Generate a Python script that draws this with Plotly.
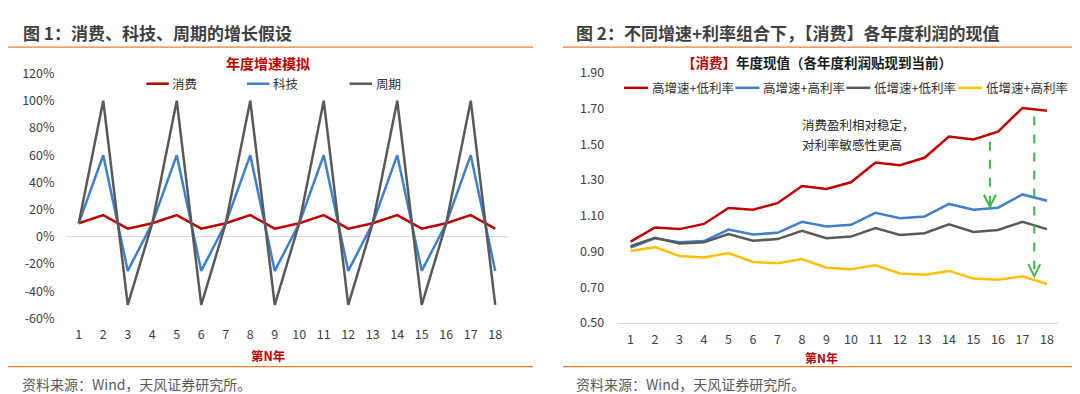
import plotly.graph_objects as go

W, H = 1080, 394

# ---------------- data ----------------
years = list(range(1, 19))
year_labels = [str(y) for y in years]

# Chart 1: annual growth simulation (%)
growth_consume = [10, 16, 6, 10, 16, 6, 10, 16, 6, 10, 16, 6, 10, 16, 6, 10, 16, 6]
growth_tech = [10, 60, -25, 10, 60, -25, 10, 60, -25, 10, 60, -25, 10, 60, -25, 10, 60, -25]
growth_cycle = [10, 100, -50, 10, 100, -50, 10, 100, -50, 10, 100, -50, 10, 100, -50, 10, 100, -50]
c1_yticks = [-60, -40, -20, 0, 20, 40, 60, 80, 100, 120]

# Chart 2: present value of each year's profit (consumer)
pv_high_g_low_r = [0.955, 1.034, 1.025, 1.054, 1.143, 1.134, 1.170, 1.266, 1.250, 1.287,
                   1.398, 1.383, 1.424, 1.543, 1.527, 1.570, 1.703, 1.687]
pv_high_g_high_r = [0.921, 0.974, 0.951, 0.958, 1.022, 0.995, 1.004, 1.066, 1.040, 1.049,
                    1.116, 1.086, 1.095, 1.166, 1.134, 1.145, 1.219, 1.184]
pv_low_g_low_r = [0.930, 0.977, 0.944, 0.951, 0.997, 0.960, 0.969, 1.015, 0.974, 0.983,
                  1.031, 0.992, 1.002, 1.052, 1.009, 1.020, 1.066, 1.025]
pv_low_g_high_r = [0.903, 0.924, 0.875, 0.866, 0.891, 0.841, 0.834, 0.857, 0.809, 0.800,
                   0.823, 0.777, 0.769, 0.791, 0.748, 0.741, 0.761, 0.718]
c2_yticks = [0.50, 0.70, 0.90, 1.10, 1.30, 1.50, 1.70, 1.90]

# arrows (x position in year units, start value, end value)
arrow_x = [15.67, 17.48]
arrow_from = [1.514, 1.655]
arrow_to = [1.150, 0.762]

# ---------------- style ----------------
RED = "#C00000"
BLUE = "#3F7FCB"
GRAY = "#595959"
YELLOW = "#FFC000"
GREEN = "#3DB54A"
ORANGE = "#ED7D31"
FONT = "Noto Sans CJK SC"
TICK = "#404040"

def px(x):
    return x / W

def py(y):
    return 1 - y / H

fig = go.Figure()

c1_series = [("消费", growth_consume, RED), ("科技", growth_tech, BLUE), ("周期", growth_cycle, GRAY)]
for name, vals, col in c1_series:
    fig.add_trace(go.Scatter(x=years, y=vals, mode="lines", name=name,
                             line=dict(color=col, width=2.5), xaxis="x", yaxis="y",
                             showlegend=False))

c2_series = [("高增速+低利率", pv_high_g_low_r, RED), ("高增速+高利率", pv_high_g_high_r, BLUE),
             ("低增速+低利率", pv_low_g_low_r, GRAY), ("低增速+高利率", pv_low_g_high_r, YELLOW)]
for name, vals, col in c2_series:
    fig.add_trace(go.Scatter(x=years, y=vals, mode="lines", name=name,
                             line=dict(color=col, width=2.5), xaxis="x2", yaxis="y2",
                             showlegend=False))

# plot areas (pixels)
c1_x = (58.5, 499.5)
c1_y = (57.3, 314.7)
c2_x = (610.25, 1051.25)
c2_y = (56.5, 319.3)

axis_common = dict(showgrid=False, ticks="", tickfont=dict(family=FONT, size=12.5, color=TICK),
                   fixedrange=True)

fig.update_layout(
    width=W, height=H, margin=dict(l=0, r=0, t=0, b=0),
    paper_bgcolor="white", plot_bgcolor="white",
    font=dict(family=FONT, color="#333333"),
    showlegend=False,
    xaxis=dict(domain=[px(c1_x[0]), px(c1_x[1])], range=[0.5, 18.5], tickmode="array",
               tickvals=years, ticktext=year_labels, zeroline=False, showline=False,
               ticklabelstandoff=7, anchor="y", **axis_common),
    yaxis=dict(domain=[py(c1_y[1]), py(c1_y[0])], range=[-60, 120], tickmode="array",
               tickvals=c1_yticks, ticktext=[f"{v}%" for v in c1_yticks],
               zeroline=True, zerolinecolor="#D9D9D9", zerolinewidth=1, showline=False,
               ticklabelstandoff=11, anchor="x", **axis_common),
    xaxis2=dict(domain=[px(c2_x[0]), px(c2_x[1])], range=[0.5, 18.5], tickmode="array",
                tickvals=years, ticktext=year_labels, zeroline=False, showline=True,
                linecolor="#D9D9D9", linewidth=1, ticklabelstandoff=5, anchor="y2",
                **axis_common),
    yaxis2=dict(domain=[py(c2_y[1]), py(c2_y[0])], range=[0.5, 1.9], tickmode="array",
                tickvals=c2_yticks, ticktext=[f"{v:.2f}" for v in c2_yticks],
                zeroline=False, showline=False, ticklabelstandoff=13, anchor="x2",
                **axis_common),
)

shapes = []
annotations = []

def line_px(x0, y0, x1, y1, color, width):
    shapes.append(dict(type="line", xref="paper", yref="paper", x0=px(x0), y0=py(y0),
                       x1=px(x1), y1=py(y1), line=dict(color=color, width=width)))

def text_px(x, y, text, size, color, xanchor="left", bold=False):
    annotations.append(dict(xref="paper", yref="paper", x=px(x), y=py(y),
                            text=(f"<b>{text}</b>" if bold else text),
                            showarrow=False, xanchor=xanchor, yanchor="middle",
                            font=dict(family=FONT, size=size, color=color)))

# headers and dividers
text_px(13, 14, "图 1：消费、科技、周期的增长假设", 17, "#3F3F3F", bold=True)
text_px(566, 14, "图 2：不同增速+利率组合下，【消费】各年度利润的现值", 17, "#3F3F3F", bold=True)
line_px(0, 29.5, 525, 29.5, ORANGE, 1.2)
line_px(555, 29.5, 1080, 29.5, ORANGE, 1.2)
line_px(0, 365.3, 525, 365.3, ORANGE, 1.2)
line_px(555, 365.3, 1078, 365.3, ORANGE, 1.2)
text_px(12, 384, "资料来源：Wind，天风证券研究所。", 14, "#595959")
text_px(566, 384, "资料来源：Wind，天风证券研究所。", 14, "#595959")

# chart titles
text_px(260, 46, "年度增速模拟", 14, RED, xanchor="center", bold=True)
text_px(809, 45.5, f"<span style='color:{RED}'>【消费】</span>年度现值（各年度利润贴现到当前）",
        13.5, "#1A1A1A", xanchor="center", bold=True)

# axis titles
text_px(260, 353.5, "第N年", 12.5, RED, xanchor="center", bold=True)
text_px(813, 355.5, "第N年", 12, RED, xanchor="center", bold=True)

# legends
c1_leg = [(138.3, "消费", RED), (239, "科技", BLUE), (341.5, "周期", GRAY)]
for x0, name, col in c1_leg:
    line_px(x0, 68, x0 + 22.5, 68, col, 2.5)
    text_px(x0 + 24, 68, name, 12.5, "#333333")

c2_leg = [(616, "高增速+低利率", RED), (727.5, "高增速+高利率", BLUE),
          (838.5, "低增速+低利率", GRAY), (950, "低增速+高利率", YELLOW)]
for x0, name, col in c2_leg:
    line_px(x0, 72.3, x0 + 24, 72.3, col, 2.5)
    text_px(x0 + 25.5, 72.3, name, 12.5, "#333333")

# annotation text
text_px(791.5, 111, "消费盈利相对稳定，", 12.5, "#262626")
text_px(791.5, 131.5, "对利率敏感性更高", 12.5, "#262626")

# green dashed arrows (data coordinates)
for xa, y0, y1 in zip(arrow_x, arrow_from, arrow_to):
    shapes.append(dict(type="line", xref="x2", yref="y2", x0=xa, x1=xa, y0=y0, y1=y1,
                       line=dict(color=GREEN, width=2, dash="dash")))
    shapes.append(dict(type="path", xref="x2", yref="y2", xsizemode="pixel", ysizemode="pixel",
                       xanchor=xa, yanchor=y1, path="M -6,12 L 0,0 L 6,12",
                       line=dict(color=GREEN, width=2)))

fig.update_layout(shapes=shapes, annotations=annotations)
fig.write_html("out.html")
